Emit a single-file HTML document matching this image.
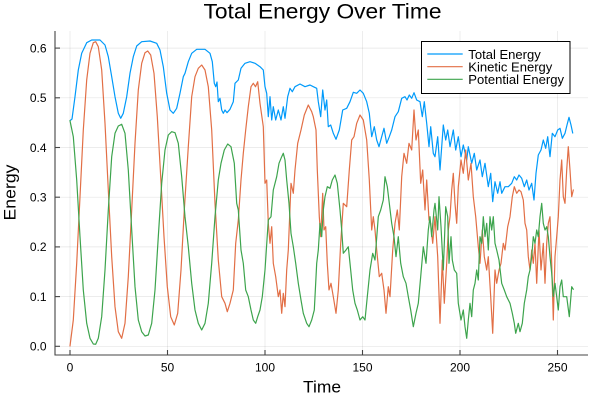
<!DOCTYPE html>
<html>
<head>
<meta charset="utf-8">
<style>
html,body{margin:0;padding:0;background:#fff;}
svg{display:block;}
text{font-family:"Liberation Sans",Arial,sans-serif;fill:#000;}
</style>
</head>
<body>
<svg width="600" height="400" viewBox="0 0 600 400" xmlns="http://www.w3.org/2000/svg">
<rect x="0" y="0" width="600" height="400" fill="#fff"/>
<!-- grid -->
<g stroke="#000" stroke-opacity="0.1" stroke-width="0.7">
<line x1="70" y1="31" x2="70" y2="355"/>
<line x1="167.5" y1="31" x2="167.5" y2="355"/>
<line x1="265" y1="31" x2="265" y2="355"/>
<line x1="362.5" y1="31" x2="362.5" y2="355"/>
<line x1="460" y1="31" x2="460" y2="355"/>
<line x1="557.5" y1="31" x2="557.5" y2="355"/>
<line x1="55" y1="346.3" x2="588" y2="346.3"/>
<line x1="55" y1="296.6" x2="588" y2="296.6"/>
<line x1="55" y1="246.9" x2="588" y2="246.9"/>
<line x1="55" y1="197.2" x2="588" y2="197.2"/>
<line x1="55" y1="147.5" x2="588" y2="147.5"/>
<line x1="55" y1="97.8" x2="588" y2="97.8"/>
<line x1="55" y1="48.1" x2="588" y2="48.1"/>
</g>
<!-- axes -->
<g stroke="#444" stroke-width="1.1">
<line x1="55" y1="31" x2="55" y2="355.5"/>
<line x1="54.5" y1="355" x2="588" y2="355"/>
<line x1="55" y1="346.3" x2="60" y2="346.3"/>
<line x1="55" y1="296.6" x2="60" y2="296.6"/>
<line x1="55" y1="246.9" x2="60" y2="246.9"/>
<line x1="55" y1="197.2" x2="60" y2="197.2"/>
<line x1="55" y1="147.5" x2="60" y2="147.5"/>
<line x1="55" y1="97.8" x2="60" y2="97.8"/>
<line x1="55" y1="48.1" x2="60" y2="48.1"/>
<line x1="70" y1="350" x2="70" y2="355"/>
<line x1="167.5" y1="350" x2="167.5" y2="355"/>
<line x1="265" y1="350" x2="265" y2="355"/>
<line x1="362.5" y1="350" x2="362.5" y2="355"/>
<line x1="460" y1="350" x2="460" y2="355"/>
<line x1="557.5" y1="350" x2="557.5" y2="355"/>
</g>
<!-- tick labels -->
<g font-size="12" text-anchor="end">
<text x="46.5" y="350.6">0.0</text>
<text x="46.5" y="300.9">0.1</text>
<text x="46.5" y="251.2">0.2</text>
<text x="46.5" y="201.5">0.3</text>
<text x="46.5" y="151.8">0.4</text>
<text x="46.5" y="102.1">0.5</text>
<text x="46.5" y="52.4">0.6</text>
</g>
<g font-size="12" text-anchor="middle">
<text x="70" y="371.5">0</text>
<text x="167.5" y="371.5">50</text>
<text x="265" y="371.5">100</text>
<text x="362.5" y="371.5">150</text>
<text x="460" y="371.5">200</text>
<text x="557.5" y="371.5">250</text>
</g>
<!-- titles -->
<text x="322.5" y="18.5" font-size="21.5" text-anchor="middle" textLength="238" lengthAdjust="spacingAndGlyphs">Total Energy Over Time</text>
<text x="322" y="392.7" font-size="17" text-anchor="middle" textLength="38" lengthAdjust="spacingAndGlyphs">Time</text>
<text transform="translate(15.5,192.5) rotate(-90)" font-size="17" text-anchor="middle" textLength="56" lengthAdjust="spacingAndGlyphs">Energy</text>

<!-- series -->
<g fill="none" stroke-width="1.2" stroke-linejoin="round" stroke-linecap="round">
<polyline stroke="#009AFA" points="70,120.7 72,119 75,96.7 78.3,70 81.7,53.3 86.7,42.7 91.7,40 100,40 105,45 108.3,56.7 111.7,76.7 115,96.7 118.3,113.3 120.7,118.3 123.3,113.3 126.7,96.7 130,73.3 133.3,56.7 136.7,46 141.7,41.7 150,41 156.7,43.3 160,50 163.3,66.7 166.7,93.3 170,110 173.3,113.3 176.7,108.3 180,93.3 183.3,76.7 185,73.3 188.3,61.7 191.7,53.3 196.7,49.3 205,49.3 210,53.3 212.3,61.7 214.3,83.3 215.7,86.7 217,82 218.3,101.7 220,98.3 221.7,110 223.3,113.3 225,110 227,112.7 230,109.3 233.3,101.7 235,83.3 238.3,80 241,68.3 245,63.3 250,61.7 255,63.3 260,66.7 263.3,70 265,86.7 266.7,93.3 268.3,116.7 270,96.7 271.7,120 273.3,106.7 275.7,120 278.3,110 281,120 283.3,106.7 285,118.3 287.7,96.7 290,88.3 292.3,91.7 295,86.7 300,84 305,86.7 310,85 313.3,86.7 316.7,88.3 318.3,101.7 320.7,116.7 322.7,90 325,110 326.7,100 328.3,126.7 330.7,125 333.3,133.3 336,139.3 339.3,130 342.7,110 346.7,108.3 350,101.7 353.3,92.3 356.7,93.3 360,90 363.3,93.3 366.7,101.7 369.3,113.3 371.7,136.7 374.3,126.7 376.7,140 379,146.7 381.7,136.7 384,128.3 386.7,143.3 389.3,136.7 391.7,130 395,116.7 398.3,111.7 401.7,98.3 405,96.7 407,100 409.3,95 411.7,98.3 414,92.7 416.7,100 420,101.7 422.3,116.7 424.3,101.7 426.7,123.3 429,146.7 430.7,126.7 433.3,153.3 435,156.7 437.7,136.7 440,170 443.3,125 445.7,140 447.7,130 450,146.7 453.3,130 455.7,150 458.3,136.7 461,156.7 463.3,145 466.7,160 468.3,146.7 471.7,163.3 474.3,153.3 476.7,170 480,160 482.3,176.7 485,163.3 488.3,186.7 490.7,173.3 492.7,201.7 495,181.7 497.7,193.3 500,181.7 501.7,193.3 505,186.7 508.3,186.7 511.7,183.3 514.3,176.7 516.7,180 519,175 521.7,178.3 524.3,186.7 526.7,180 529,190 531.7,183.3 534,200 536,173.3 538.3,155 541,150 543.3,140 545.7,148.3 547.7,136.7 550,156.7 552.3,133.3 555,136.7 557.7,130 560,128.3 562.3,138.3 565,133.3 567,125 569,117.3 571,125 572.7,133"/>
<polyline stroke="#E26F46" points="70,346 73.3,320 76.7,263.3 80,196.7 83.3,130 86.7,80 90,53.3 93.3,42.7 95.7,41.7 98.3,46.7 101.7,70 105,123.3 108.3,190 111.7,256.7 115,306.7 118.3,331.7 121.7,338.3 125,323.3 128.3,276.7 131.7,210 135,143.3 138.3,90 141.7,63.3 145,52.7 147.7,51 150.7,55 154,73.3 157.3,116.7 160.7,176.7 164,236.7 167.3,286.7 170.7,316.7 174.3,325 177.7,313.3 181,270 184.3,210 188.3,146.7 191.7,96.7 195,76.7 198.3,68.3 201.7,65 205,70 208.3,86.7 211.7,130 215,203.3 218.3,260 221.7,296.7 225,303.3 227.3,311.7 230,303.3 233.3,290 235.7,243.3 238.3,220 241,180 243.3,153.3 245.7,130 248.3,106.7 251,86.7 253.3,83.3 255.5,86.7 257.7,81.7 260,103.3 263.3,126.7 265,183.3 266.7,180 268.3,223.3 270,243.3 271.7,226.7 273.3,263.3 275.7,276.7 278.3,296.7 280,290 281.7,313.3 283.3,293.3 285,306.7 286.7,270 288.3,250 291,183.3 293.3,193.3 295,170 297.7,143.3 301,130 304.3,115 308.3,105 311.7,111.7 313.3,116.7 316,130 317.3,170 319.3,216.7 320.7,236.7 322.7,193.3 324,230 325.7,226.7 327.3,263.3 329,290 331,283.3 333.3,296.7 336,313.3 338.3,290 340.7,243.3 343.3,203.3 346.7,206.7 349.3,170 351.7,140 354,136.7 356.7,123.3 360,115 363.3,120 366.7,140 369.3,180 371.7,230 373.3,216.7 375,230 376.7,250 379.3,276.7 381.7,273.3 384,290 386,313.3 388.3,286.7 390,296.7 392.7,250 395,223.3 397.3,210 399.3,230 401.7,176.7 404,153.3 406.7,163.3 409,143.3 411.7,150 414,110 416,140 418.3,130 420.7,183.3 422.7,170 425,210 426.7,180 429,220 430.7,223.3 432.7,243.3 435,216.7 437.7,256.7 440,323.3 442.3,260 444.3,303.3 446.7,263.3 448.3,230 450,216.7 451.7,190 453.3,173.3 455,203.3 456.7,223.3 458.3,186.7 461,160 463.3,173.3 465.7,150 468.3,180 471,163.3 473.3,196.7 475.7,216.7 478.3,246.7 480,263.3 482.3,230 484.3,256.7 486.7,270 488.3,256.7 490.7,296.7 492.7,333.3 495,270 496.7,283.3 499,270 501,263.3 503.3,243.3 505,250 507.7,226.7 510,216.7 512.3,196.7 514.3,186.7 516.7,193.3 519,190 521,191.7 523.3,200 525,223.3 526.7,230 528.3,256.7 530,270 531.7,250 533.3,263.3 535,243.3 536.7,283.3 539,230 541,270 543.3,243.3 545,283.3 546.7,243.3 548.3,223.3 550,216.7 551.7,263.3 553.3,320 555,256.7 556.7,236.7 558.3,216.7 560,180 561.7,160 563.3,196.7 565,203.3 566.7,170 568.3,146.7 570,170 571.7,196.7 573.3,190"/>
<polyline stroke="#3DA44D" points="70,120.7 73.3,136.7 76.7,180 80,236.7 83.3,290 86.7,323.3 90,338.3 93.3,344 95.7,344.3 98.3,338.3 101.7,316.7 105,270 108.3,210 111.7,156.7 115,133.3 118.3,126 121.7,124.3 125,133.3 128.3,170 131.7,230 135,286.7 138.3,320 141.7,331.7 145,336 148.3,335 151.7,323.3 155,290 158.3,236.7 161.7,183.3 165,150 168.3,135 171.7,131.7 175,132.7 178.3,143.3 181.7,176.7 185,216.7 188.3,246.7 191.7,283.3 195,310 198.3,323.3 201.7,330 205,323.3 208.3,303.3 211.7,263.3 215,216.7 218.3,180 221,163.3 224.3,150 227.7,144 231,146.7 234.3,163.3 236.7,203.3 238.3,210 241,250 243.3,263.3 245.7,290 248.3,296.7 251,310 253.3,320 255.7,323.3 257.7,316.7 260,310 262.3,296.7 265,270 268.3,220 271,216.7 273.3,190 276.7,176.7 279,163.3 281.7,156.7 283.3,153.3 285,160 286.7,180 289,203.3 291,233.3 293.3,246.7 295.7,263.3 298.3,283.3 301,300 303.3,313.3 306.7,323.3 309,326.7 311.7,320 314.3,310 315,296.7 316.7,263.3 318.3,250 320,223.3 321.7,236.7 323.3,210 325,196.7 327.3,186.7 330,188.3 332.3,180 335,175 337.3,183.3 340,210 341.7,230 343.3,253.3 346,250 348.3,246.7 350,263.3 352.7,290 355,303.3 357.3,310 360,320 362.7,316.7 365,320 367.3,296.7 370,270 372.7,253.3 375,260 378.3,216.7 380.7,210 383.3,200 385,176.7 387.3,186.7 389.3,203.3 391.7,223.3 394,236.7 396,256.7 398.3,236.7 400.7,263.3 403.3,276.7 406,283.3 408.3,296.7 410.7,310 413.3,326.7 416,313.3 418.3,303.3 420.7,276.7 423.3,246.7 426,263.3 428.3,230 430,216.7 431.7,236.7 434,210 435,203.3 437.7,230 439,196.7 441,226.7 443.3,270 445.7,206.7 447.7,216.7 449,263.3 451,236.7 452.3,260 454.3,270 456.7,273.3 458.3,303.3 461,320 463.3,310 465,326.7 466.7,338.3 468.3,320 470,303.3 471.7,316.7 473.3,290 475,283.3 476.7,270 478.3,280 480,236.7 481.7,243.3 483.3,216.7 485,236.7 486.7,223.3 488.3,250 490,216.7 491.7,230 493.3,216.7 495,243.3 496.7,250 499,260 501.7,283.3 504.3,290 506.7,296.7 510,303.3 512.3,313.3 514.3,323.3 515.7,333.3 518.3,323.3 520,331.7 522.3,323.3 524.3,303.3 526.7,290 528.3,276.7 530,270 531.7,256.7 533.3,236.7 535,243.3 536.7,230 538.3,236.7 540,216.7 541.7,203.3 543.3,223.3 545,230 546.7,226.7 548.3,236.7 550,256.7 551.7,273.3 553.3,296.7 555,283.3 556.7,296.7 558.3,310 560,286.7 561.7,280 563.3,296.7 566.7,296.7 569.3,316.7 571.7,286.7 573.3,289.3"/>
</g>

<!-- legend -->
<rect x="421.5" y="41.5" width="148.5" height="52" fill="#fff" stroke="#000" stroke-width="1"/>
<line x1="427.3" y1="54" x2="462.7" y2="54" stroke="#009AFA" stroke-width="1.2"/>
<line x1="427.3" y1="66.7" x2="462.7" y2="66.7" stroke="#E26F46" stroke-width="1.2"/>
<line x1="427.3" y1="79.3" x2="462.7" y2="79.3" stroke="#3DA44D" stroke-width="1.2"/>
<text x="468.3" y="58.8" font-size="12.5" textLength="72.5" lengthAdjust="spacingAndGlyphs">Total Energy</text>
<text x="468.3" y="71.5" font-size="12.5" textLength="84" lengthAdjust="spacingAndGlyphs">Kinetic Energy</text>
<text x="468.3" y="84.1" font-size="12.5" textLength="95.7" lengthAdjust="spacingAndGlyphs">Potential Energy</text>
</svg>
</body>
</html>
